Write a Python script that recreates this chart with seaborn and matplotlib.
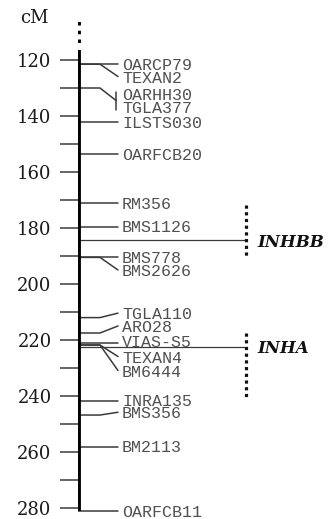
import matplotlib
matplotlib.use('Agg')
import matplotlib.pyplot as plt
import numpy as np
import pandas as pd
import seaborn as sns

# --- data (cM) ---
markers = ['OARCP79', 'TEXAN2', 'OARHH30', 'TGLA377', 'ILSTS030', 'OARFCB20',
           'RM356', 'BMS1126', 'BMS778', 'BMS2626', 'TGLA110', 'ARO28',
           'VIAS-S5', 'TEXAN4', 'BM6444', 'INRA135', 'BMS356', 'BM2113', 'OARFCB11']
marker_cm = [121.5, 121.5, 130.0, 130.0, 142.0, 153.5,
             171.0, 179.5, 190.5, 190.5, 212.0, 217.5,
             221.0, 221.8, 221.8, 241.8, 246.8, 258.2, 281.0]
label_cm = [121.6, 125.9, 132.1, 136.8, 142.3, 153.4,
            171.0, 179.3, 190.5, 195.0, 210.4, 215.0,
            220.4, 225.9, 230.9, 241.6, 245.8, 258.0, 281.2]
bracket_pairs = [('OARHH30', 'TGLA377')]

genes = ['INHBB', 'INHA']
gene_cm = [184.3, 222.4]
gene_span = [(171.8, 190.7), (217.5, 241.4)]

bar_range = (116.4, 281.0)
dotted_top = (106.5, 115.0)
major_ticks = [120, 140, 160, 180, 200, 220, 240, 260, 280]
minor_ticks = [130, 150, 170, 190, 210, 230, 250, 270]

# --- layout (pixel geometry) ---
W, H = 328, 519
PX_PER_CM = 2.8
Y120 = 60
BAR_X = 78
X_BREAK, X_LABEL_END, X_LABEL = 22, 40, 44
X_GENE_LINE, X_GENE_LABEL = 168, 179
LINE_COL = '#3a3a3a'
TEXT_COL = '#505050'

sns.set_theme(style='white')
plt.rcParams['font.family'] = ['DejaVu Serif']

fig = plt.figure(figsize=(W / 100, H / 100), dpi=100)
ax = fig.add_axes([BAR_X / W, 0, (W - BAR_X) / W, 1])
ax.set_xlim(0, W - BAR_X)
ax.set_ylim(120 + (H - Y120) / PX_PER_CM, 120 - Y120 / PX_PER_CM)
sns.despine(ax=ax, left=True, bottom=True)
ax.set_facecolor('none')
ax.set_xticks([])

ax.set_yticks(major_ticks)
ax.set_yticks(minor_ticks, minor=True)
ax.tick_params(axis='y', which='both', direction='out', length=13, width=1.1,
               color=LINE_COL, left=True, pad=6, labelsize=13, labelcolor='#1a1a1a')

# connectors from chromosome to labels
rows = []
for name, m, lab in zip(markers, marker_cm, label_cm):
    if abs(m - lab) < 0.8:
        pts = [(0, m), (X_LABEL_END, m)]
    else:
        pts = [(0, m), (X_BREAK, m), (X_LABEL_END, lab)]
    rows += [{'marker': name, 'x': x, 'cM': y} for x, y in pts]
for a, b in bracket_pairs:
    ia, ib = markers.index(a), markers.index(b)
    mid = (label_cm[ia] + label_cm[ib]) / 2
    rows = [r for r in rows if r['marker'] not in (a, b)]
    rows += [{'marker': a, 'x': x, 'cM': y}
             for x, y in [(0, marker_cm[ia]), (X_BREAK, marker_cm[ia]), (X_LABEL_END - 2, mid)]]
    rows += [{'marker': b, 'x': X_LABEL_END - 2, 'cM': label_cm[ia] - 0.8},
             {'marker': b, 'x': X_LABEL_END - 2, 'cM': label_cm[ib] + 1.2}]
conn = pd.DataFrame(rows)
sns.lineplot(data=conn, x='x', y='cM', units='marker', estimator=None, sort=False,
             color=LINE_COL, lw=1.1, ax=ax, legend=False)
ax.set_xlabel('')
ax.set_ylabel('')

for name, lab in zip(markers, label_cm):
    ax.text(X_LABEL, lab, name, family='Liberation Mono', fontsize=12,
            color=TEXT_COL, va='center_baseline', ha='left')

# gene positions
for g, c, (s0, s1) in zip(genes, gene_cm, gene_span):
    ax.plot([0, X_GENE_LINE], [c, c], color=LINE_COL, lw=0.9)
    ax.plot([X_GENE_LINE, X_GENE_LINE], [s0, s1], color='#111111', lw=2.3,
            linestyle=(0, (1, 1.1)))
    ax.text(X_GENE_LABEL, c, g, fontsize=12, fontweight='bold', fontstyle='italic',
            color='#111111', va='center_baseline', ha='left')

# chromosome bar
ax.plot([0, 0], list(bar_range), color='black', lw=4.2, solid_capstyle='butt')
ax.plot([0, 0], list(dotted_top), color='black', lw=4.2, linestyle=(0, (0.6, 0.9)),
        solid_capstyle='butt', dash_capstyle='butt')

fig.text(20 / W, 1 - 18 / H, 'cM', fontsize=13, color='#1a1a1a', va='center', ha='left')

fig.savefig('out.png', dpi=100)
